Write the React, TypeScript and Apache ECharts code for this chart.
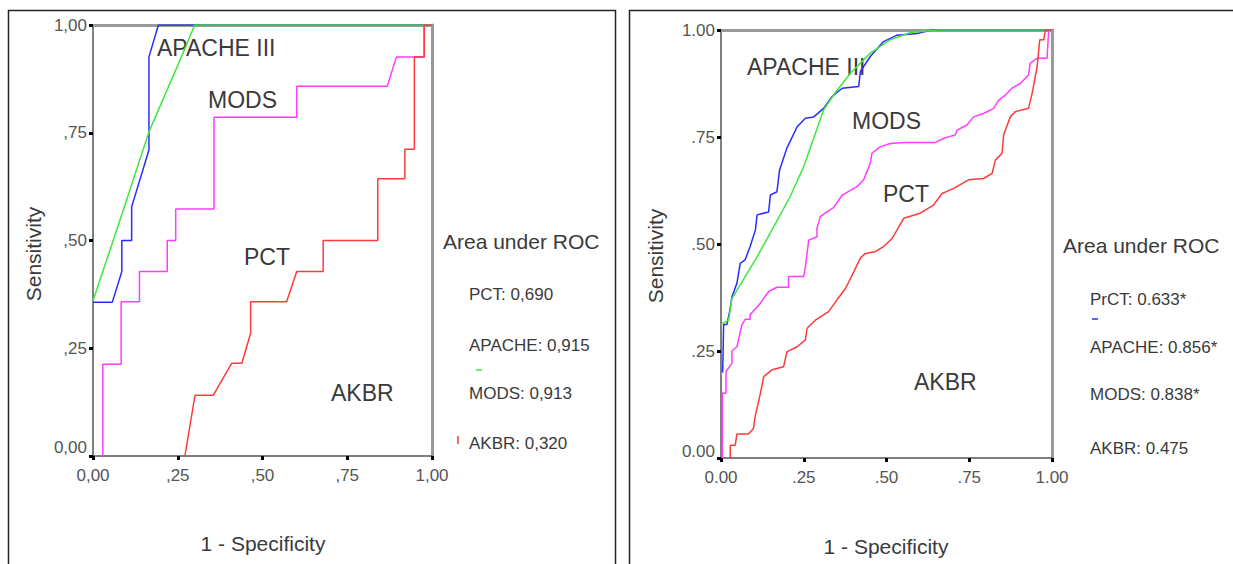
import React, { useEffect, useRef } from "react";
import * as echarts from "echarts";

// ---------- tick labels ----------
const leftTicks = ["0,00", ",25", ",50", ",75", "1,00"];
const rightTicks = ["0.00", ".25", ".50", ".75", "1.00"];

// ---------- left panel curves: [1 - specificity, sensitivity] ----------
const leftPCT = [
  [0.029, 0], [0.029, 0.213], [0.083, 0.213], [0.083, 0.358], [0.137, 0.358], [0.137, 0.428],
  [0.219, 0.428], [0.219, 0.5], [0.244, 0.5], [0.244, 0.573], [0.357, 0.573], [0.357, 0.786],
  [0.601, 0.786], [0.601, 0.858], [0.868, 0.858], [0.895, 0.926], [0.977, 0.926], [0.977, 1], [1, 1],
];
const leftAPACHE = [
  [0, 0.357], [0.057, 0.357], [0.085, 0.428], [0.085, 0.5], [0.114, 0.5], [0.114, 0.578],
  [0.165, 0.71], [0.165, 0.926], [0.193, 1], [1, 1],
];
const leftMODS = [
  [0, 0.36], [0.08, 0.548], [0.165, 0.752], [0.257, 0.919], [0.3, 1], [1, 1],
];
const leftAKBR = [
  [0.271, 0], [0.301, 0.141], [0.355, 0.141], [0.409, 0.215], [0.439, 0.215], [0.465, 0.285],
  [0.465, 0.358], [0.571, 0.358], [0.601, 0.428], [0.679, 0.428], [0.679, 0.5], [0.84, 0.5],
  [0.84, 0.643], [0.92, 0.643], [0.92, 0.712], [0.948, 0.712], [0.948, 0.926], [0.977, 0.926],
  [0.977, 1], [1, 1],
];

// ---------- right panel curves ----------
const rightPrCT = [
  [0.004, 0], [0.004, 0.151], [0.015, 0.151], [0.015, 0.202], [0.033, 0.221], [0.033, 0.25],
  [0.048, 0.26], [0.063, 0.311], [0.073, 0.324], [0.088, 0.324], [0.088, 0.335], [0.114, 0.357],
  [0.144, 0.389], [0.169, 0.399], [0.204, 0.399], [0.204, 0.424], [0.25, 0.424], [0.255, 0.447],
  [0.265, 0.509], [0.29, 0.517], [0.29, 0.537], [0.3, 0.564], [0.32, 0.575], [0.34, 0.585],
  [0.366, 0.614], [0.411, 0.634], [0.431, 0.65], [0.451, 0.689], [0.456, 0.712], [0.481, 0.727],
  [0.511, 0.735], [0.552, 0.737], [0.647, 0.737], [0.673, 0.747], [0.708, 0.755], [0.713, 0.766],
  [0.743, 0.778], [0.763, 0.797], [0.793, 0.805], [0.824, 0.817], [0.839, 0.836], [0.859, 0.848],
  [0.879, 0.864], [0.904, 0.875], [0.929, 0.895], [0.934, 0.922], [0.955, 0.934], [0.985, 0.934],
  [0.99, 1], [1, 1],
];
const rightAPACHE = [
  [0.005, 0.2], [0.008, 0.312], [0.018, 0.312], [0.028, 0.35], [0.033, 0.377], [0.048, 0.408],
  [0.058, 0.455], [0.073, 0.463], [0.088, 0.494], [0.104, 0.533], [0.109, 0.568], [0.144, 0.575],
  [0.149, 0.614], [0.169, 0.622], [0.177, 0.673], [0.199, 0.724], [0.23, 0.774], [0.255, 0.794],
  [0.28, 0.797], [0.31, 0.817], [0.335, 0.844], [0.366, 0.864], [0.416, 0.868], [0.421, 0.903],
  [0.451, 0.938], [0.491, 0.973], [0.532, 0.988], [0.592, 0.992], [0.627, 0.998], [0.635, 1], [1, 1],
];
const rightMODS = [
  [0, 0.312], [0.023, 0.322], [0.033, 0.373], [0.043, 0.385], [0.109, 0.47], [0.159, 0.54],
  [0.209, 0.611], [0.25, 0.681], [0.28, 0.747], [0.31, 0.813], [0.34, 0.848], [0.391, 0.899],
  [0.451, 0.946], [0.511, 0.977], [0.572, 0.994], [0.653, 1], [1, 1],
];
const rightAKBR = [
  [0.028, 0], [0.028, 0.03], [0.043, 0.03], [0.048, 0.056], [0.083, 0.056], [0.098, 0.069],
  [0.104, 0.1], [0.119, 0.151], [0.129, 0.19], [0.154, 0.206], [0.189, 0.213], [0.199, 0.248],
  [0.23, 0.26], [0.255, 0.276], [0.26, 0.303], [0.285, 0.322], [0.305, 0.332], [0.325, 0.342],
  [0.35, 0.369], [0.376, 0.396], [0.401, 0.435], [0.421, 0.467], [0.436, 0.478], [0.466, 0.482],
  [0.491, 0.494], [0.517, 0.513], [0.532, 0.533], [0.552, 0.56], [0.602, 0.572], [0.642, 0.591],
  [0.668, 0.618], [0.703, 0.63], [0.748, 0.65], [0.793, 0.653], [0.819, 0.665], [0.829, 0.696],
  [0.849, 0.712], [0.854, 0.755], [0.874, 0.797], [0.889, 0.809], [0.929, 0.817], [0.94, 0.852],
  [0.955, 0.914], [0.963, 0.977], [0.975, 0.977], [0.98, 1], [1, 1],
];

// ---------- texts ----------
const leftLegend = ["PCT: 0,690", "APACHE: 0,915", "MODS: 0,913", "AKBR: 0,320"];
const rightLegend = ["PrCT: 0.633*", "APACHE: 0.856*", "MODS: 0.838*", "AKBR: 0.475"];
const curveNames = ["APACHE III", "MODS", "PCT", "AKBR"];

const FONT = "'Liberation Sans', Arial, sans-serif";
const TXT = "#3a3a3a";
const BLUE = "#2b2bff";
const GREEN = "#3ee63e";
const MAGENTA = "#ff3cff";
const RED = "#ff3a3a";

function makeAxes(grid: number, ticks: string[], zeroPad: number) {
  const fmt = (v: number) => {
    const t = ticks[Math.round(v * 4)];
    return v === 0 ? `{z|${t}}` : t;
  };
  const label = {
    fontSize: 17,
    color: "#555",
    fontFamily: FONT,
  };
  const x = [
    {
      gridIndex: grid, type: "value", min: 0, max: 1, interval: 0.25, position: "bottom",
      axisLine: { onZero: false, lineStyle: { color: "#555", width: 1.5 } },
      axisTick: { length: 4, lineStyle: { color: "#000", width: 3 } },
      axisLabel: { ...label, margin: 11, formatter: (v: number) => ticks[Math.round(v * 4)] },
      splitLine: { show: false },
    },
    {
      gridIndex: grid, type: "value", min: 0, max: 1, position: "top",
      axisLine: { onZero: false, lineStyle: { color: "#9a9a9a", width: 3 } },
      axisTick: { show: false }, axisLabel: { show: false }, splitLine: { show: false },
    },
  ];
  const y = [
    {
      gridIndex: grid, type: "value", min: 0, max: 1, interval: 0.25, position: "left",
      axisLine: { onZero: false, lineStyle: { color: "#555", width: 1.5 } },
      axisTick: { length: 4, lineStyle: { color: "#000", width: 3 } },
      axisLabel: {
        ...label, margin: 6, formatter: fmt,
        rich: { z: { ...label, padding: [0, 0, zeroPad, 0] } },
      },
      splitLine: { show: false },
    },
    {
      gridIndex: grid, type: "value", min: 0, max: 1, position: "right",
      axisLine: { onZero: false, lineStyle: { color: "#9a9a9a", width: 3 } },
      axisTick: { show: false }, axisLabel: { show: false }, splitLine: { show: false },
    },
  ];
  return { x, y };
}

function line(data: number[][], color: string, axisIdx: number) {
  return {
    type: "line",
    data,
    xAxisIndex: axisIdx,
    yAxisIndex: axisIdx,
    symbol: "none",
    showSymbol: false,
    silent: true,
    lineStyle: { color, width: 1.5 },
  };
}

function txt(text: string, x: number, y: number, size: number, align = "left", extra: any = {}) {
  return {
    type: "text",
    x, y,
    ...extra,
    style: {
      text, fontSize: size, fontFamily: FONT, fill: TXT,
      textAlign: align, textVerticalAlign: "middle",
    },
  };
}

export default function App() {
  const ref = useRef<HTMLDivElement>(null);
  useEffect(() => {
    document.body.style.margin = "0";
    const chart = echarts.init(ref.current!, null, { renderer: "svg" });
    const a0 = makeAxes(0, leftTicks, 18);
    const a1 = makeAxes(1, rightTicks, 14);
    const leftLegendY = [294, 345, 393, 443];
    const rightLegendY = [299, 347, 394, 448];
    const option: any = {
      animation: false,
      backgroundColor: "#ffffff",
      grid: [
        { left: 93, top: 25, width: 339, height: 431 },
        { left: 721, top: 30, width: 331, height: 428 },
      ],
      xAxis: [...a0.x, ...a1.x],
      yAxis: [...a0.y, ...a1.y],
      series: [
        line(leftPCT, MAGENTA, 0),
        line(leftAPACHE, BLUE, 0),
        line(leftMODS, GREEN, 0),
        line(leftAKBR, RED, 0),
        line(rightPrCT, MAGENTA, 2),
        line(rightAPACHE, BLUE, 2),
        line(rightMODS, GREEN, 2),
        line(rightAKBR, RED, 2),
      ],
      graphic: [
        { type: "rect", shape: { x: 8.5, y: 10.5, width: 607, height: 600 }, style: { fill: "none", stroke: "#222", lineWidth: 1.5 } },
        { type: "rect", shape: { x: 629.5, y: 10.5, width: 640, height: 600 }, style: { fill: "none", stroke: "#222", lineWidth: 1.5 } },
        // left panel texts
        txt("Sensitivity", 33, 254, 21, "center", { rotation: Math.PI / 2 }),
        txt("1 - Specificity", 263, 543, 21, "center"),
        txt(curveNames[0], 157, 48, 23),
        txt(curveNames[1], 208, 100, 23),
        txt(curveNames[2], 244, 257, 23),
        txt(curveNames[3], 331, 393, 23),
        txt("Area under ROC", 443, 241, 21),
        ...leftLegend.map((t, i) => txt(t, 469, leftLegendY[i], 17)),
        { type: "line", shape: { x1: 476, y1: 370, x2: 482, y2: 370 }, style: { stroke: GREEN, lineWidth: 1.5 } },
        { type: "line", shape: { x1: 458, y1: 436, x2: 458, y2: 444 }, style: { stroke: RED, lineWidth: 1.5 } },
        // right panel texts
        txt("Sensitivity", 655, 256, 21, "center", { rotation: Math.PI / 2 }),
        txt("1 - Specificity", 886, 546, 21, "center"),
        txt(curveNames[0], 747, 67, 23),
        txt(curveNames[1], 852, 121, 23),
        txt(curveNames[2], 883, 194, 23),
        txt(curveNames[3], 914, 382, 23),
        txt("Area under ROC", 1063, 245, 21),
        ...rightLegend.map((t, i) => txt(t, 1090, rightLegendY[i], 17)),
        { type: "line", shape: { x1: 1092, y1: 319, x2: 1098, y2: 319 }, style: { stroke: BLUE, lineWidth: 1.5 } },
      ],
    };
    chart.setOption(option);
    return () => chart.dispose();
  }, []);
  return <div ref={ref} style={{ width: 1233, height: 564 }} />;
}
